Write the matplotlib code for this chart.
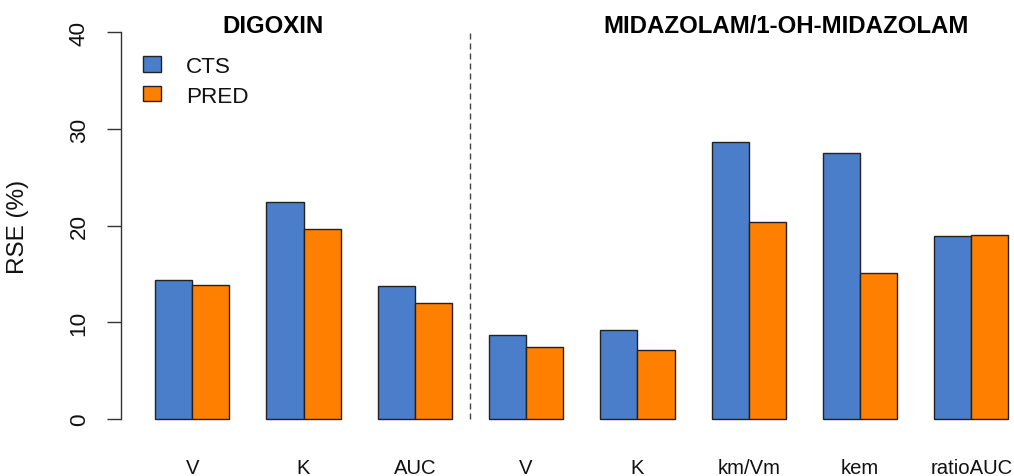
import numpy as np
import matplotlib
matplotlib.use("Agg")
import matplotlib.pyplot as plt
import matplotlib.transforms as mtransforms

plt.rcParams['font.family'] = ['Liberation Sans', 'DejaVu Sans']

# RSE (%) per parameter, two studies side by side
params = ["V", "K", "AUC", "V", "K", "km/Vm", "kem", "ratioAUC"]
rse_cts = [14.4, 22.4, 13.8, 8.7, 9.2, 28.6, 27.5, 18.9]
rse_pred = [13.9, 19.7, 12.0, 7.5, 7.1, 20.4, 15.1, 19.0]
series_names = ["CTS", "PRED"]
study_titles = ["DIGOXIN", "MIDAZOLAM/1-OH-MIDAZOLAM"]
n_digoxin = 3

col_cts = "#4A7ECB"
col_pred = "#FF7F00"

W, H = 1014, 477
fig = plt.figure(figsize=(W / 100, H / 100), dpi=100)

# plot region in pixels (R barplot style: width 1, gap 1 between groups)
px_unit = 37.1
left_px, bottom_px, top_px = 121, 435.5, 17.8
xmin = 0.08
xmax = xmin + (W - left_px) / px_unit
ax = fig.add_axes([left_px / W, 1 - bottom_px / H,
                   (W - left_px) / W, (bottom_px - top_px) / H])

n = len(params)
x0 = 1 + 3 * np.arange(n)  # left edge of each CTS bar
ax.bar(x0, rse_cts, width=1, align="edge", color=col_cts,
       edgecolor="#222222", linewidth=1.0, label=series_names[0])
ax.bar(x0 + 1, rse_pred, width=1, align="edge", color=col_pred,
       edgecolor="#222222", linewidth=1.0, label=series_names[1])

ax.set_xlim(xmin, xmax)
ax.set_ylim(-1.6, 41.6)

# separator between the two studies
sep = x0[n_digoxin] - 0.5
ax.plot([sep, sep], [0, 40], color="#444444", lw=1.0,
        linestyle=(0, (4.3, 2.9)))

# y axis: R-like, line only over tick range
for s in ["top", "right", "bottom"]:
    ax.spines[s].set_visible(False)
ax.spines["left"].set_bounds(0, 40)
ax.spines["left"].set_color("#333333")
ax.spines["left"].set_linewidth(1.0)
ax.set_yticks([0, 10, 20, 30, 40])
ax.tick_params(axis="y", length=10, width=1.0, color="#333333",
               labelsize=16.2, pad=12.5, labelcolor="#111111")
for lab in ax.get_yticklabels():
    lab.set_rotation(90)
    lab.set_va("center")
ax.set_xticks([])

fig.text(18 / W, 1 - 226.6 / H, "RSE (%)", rotation=90, ha="center",
         va="center", fontsize=17.5, color="#111111")

# parameter names under each group
trans = mtransforms.blended_transform_factory(ax.transData, fig.transFigure)
for xi, name in zip(x0 + 1, params):
    ax.text(xi, 1 - 474.5 / H, name, transform=trans, ha="center",
            va="baseline", fontsize=14.6, color="#111111")

# study headers
ax.text(4.17, 1 - 33.3 / H, study_titles[0], transform=trans, ha="center",
        va="baseline", fontsize=17.3, fontweight="bold", color="#000000")
ax.text(18.0, 1 - 33.3 / H, study_titles[1], transform=trans, ha="center",
        va="baseline", fontsize=17.3, fontweight="bold", color="#000000")

leg = ax.legend(loc="upper left", bbox_to_anchor=(143 / W, 1 - 57 / H),
                bbox_transform=fig.transFigure, frameon=False,
                fontsize=16.2, handlelength=0.82, handleheight=0.67,
                handletextpad=1.1, labelspacing=0.38, borderpad=0,
                borderaxespad=0)
for t in leg.get_texts():
    t.set_color("#111111")

fig.savefig("out.png", dpi=100)
